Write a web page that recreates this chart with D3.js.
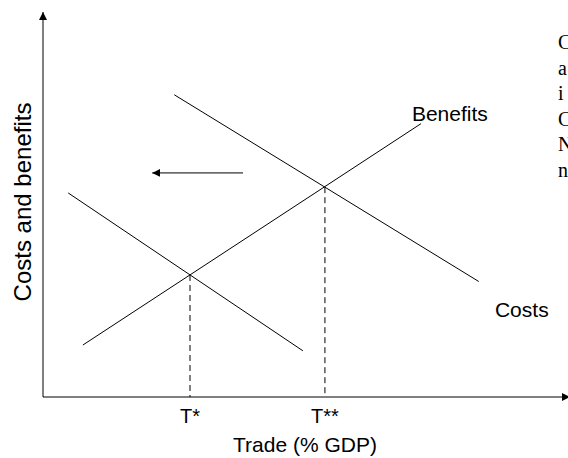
<!DOCTYPE html>
<html>
<head>
<meta charset="utf-8">
<script src="https://cdn.jsdelivr.net/npm/d3@7"></script>
<style>
  html, body { margin: 0; padding: 0; background: #fff; }
  svg { display: block; }
</style>
</head>
<body>
<div id="chart"></div>
<script>
// ---- data (conceptual units: trade 0..100, costs/benefits 0..100) ----
const benefitsLine = [[7.6, 13.5], [72, 71]];
const costsLine = [[25, 78.5], [83, 30]];
const costsShifted = [[4.8, 53], [49.5, 12]];
const equilibria = [
  { label: "T*", x: 28, y: 31.7 },
  { label: "T**", x: 53.7, y: 54.5 }
];
const shiftArrow = { from: [38.1, 58.2], to: [20.8, 58.2] };
const curveLabels = [
  { text: "Benefits", x: 77.5, y: 71.7 },
  { text: "Costs", x: 91.2, y: 20.8 }
];
const xTitle = "Trade (% GDP)";
const yTitle = "Costs and benefits";
const sideText = ["C", "a", "i", "C", "N", "n"];

const W = 568, H = 458;
const x = d3.scaleLinear().domain([0, 100]).range([43, 568]);
const y = d3.scaleLinear().domain([0, 100]).range([397, 12]);

const svg = d3.select("#chart").append("svg")
  .attr("width", W).attr("height", H)
  .style("font-family", "'Liberation Sans', Arial, sans-serif");

const defs = svg.append("defs");
defs.append("marker").attr("id", "ah")
  .attr("viewBox", "0 0 10 10").attr("refX", 10).attr("refY", 5)
  .attr("markerWidth", 8).attr("markerHeight", 8)
  .attr("markerUnits", "userSpaceOnUse")
  .attr("orient", "auto")
  .append("path").attr("d", "M0,0 L10,5 L0,10 Z").attr("fill", "#000");

// axes
svg.append("line")
  .attr("x1", x(0)).attr("y1", y(0)).attr("x2", x(0)).attr("y2", y(100))
  .attr("stroke", "#000").attr("stroke-width", 1)
  .attr("marker-end", "url(#ah)");
svg.append("line")
  .attr("x1", x(0)).attr("y1", y(0)).attr("x2", x(100) + 2).attr("y2", y(0))
  .attr("stroke", "#000").attr("stroke-width", 1)
  .attr("marker-end", "url(#ah)");

const line = d3.line().x(d => x(d[0])).y(d => y(d[1]));

[benefitsLine, costsLine, costsShifted].forEach(pts => {
  svg.append("path").attr("d", line(pts))
    .attr("fill", "none").attr("stroke", "#000").attr("stroke-width", 1);
});

// dashed drop lines
equilibria.forEach(e => {
  svg.append("line")
    .attr("x1", x(e.x)).attr("x2", x(e.x))
    .attr("y1", y(e.y)).attr("y2", y(0))
    .attr("stroke", "#000").attr("stroke-width", 1)
    .attr("stroke-dasharray", "6,4");
  svg.append("text")
    .attr("x", x(e.x)).attr("y", y(0) + 26)
    .attr("text-anchor", "middle").attr("font-size", 20)
    .text(e.label);
});

// shift arrow
svg.append("line")
  .attr("x1", x(shiftArrow.from[0])).attr("y1", y(shiftArrow.from[1]))
  .attr("x2", x(shiftArrow.to[0])).attr("y2", y(shiftArrow.to[1]))
  .attr("stroke", "#000").attr("stroke-width", 1)
  .attr("marker-end", "url(#ah)");

// curve labels
curveLabels.forEach(c => {
  svg.append("text")
    .attr("x", x(c.x)).attr("y", y(c.y))
    .attr("text-anchor", "middle").attr("font-size", 21)
    .text(c.text);
});

// axis titles
svg.append("text")
  .attr("x", 305).attr("y", 452)
  .attr("text-anchor", "middle").attr("font-size", 21)
  .text(xTitle);
svg.append("text")
  .attr("transform", "translate(31,202) rotate(-90)")
  .attr("text-anchor", "middle").attr("font-size", 24)
  .text(yTitle);

// clipped side text
svg.append("g").selectAll("text").data(sideText).join("text")
  .attr("x", 558).attr("y", (d, i) => 49 + i * 25.5)
  .attr("font-family", "'Liberation Serif', 'Times New Roman', serif")
  .attr("font-size", 20)
  .text(d => d);
</script>
</body>
</html>
